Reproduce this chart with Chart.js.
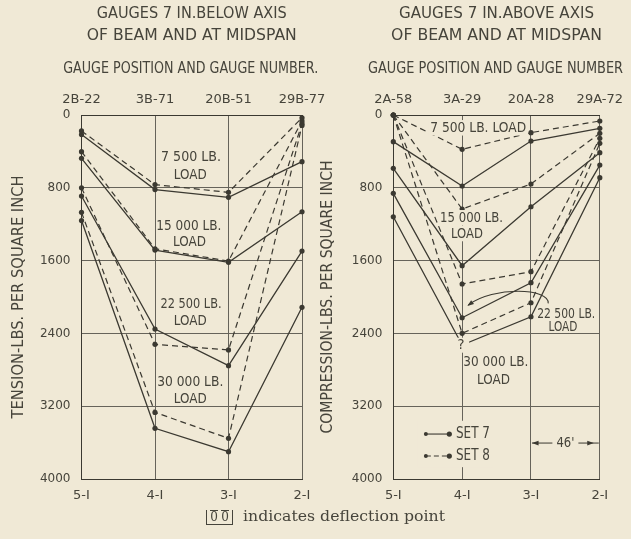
<!DOCTYPE html>
<html>
<head>
<meta charset="utf-8">
<script src="https://cdn.jsdelivr.net/npm/chart.js@4"></script>
<style>
  body { margin: 0; background: #f0e9d6; }
  #wrap { position: relative; width: 631px; height: 539px; }
  canvas { position: absolute; left: 0; top: 0; }
</style>
</head>
<body>
<div id="wrap">
  <canvas id="below" width="631" height="539"></canvas>
  <canvas id="above" width="631" height="539"></canvas>
</div>
<script>
// gauge positions and gauge numbers
const positions = ['5-I', '4-I', '3-I', '2-I'];
const gaugesBelow = ['2B-22', '3B-71', '20B-51', '29B-77'];
const gaugesAbove = ['2A-58', '3A-29', '20A-28', '29A-72'];
const stressTicks = [0, 800, 1600, 2400, 3200, 4000];
const loads = ['7 500', '15 000', '22 500', '30 000'];

// tension, gauges 7 in. below axis (lbs. per sq. in.)
const tension7500Set7 = [215, 820, 905, 513];
const tension7500Set8 = [175, 765, 850, 30];
const tension15000Set7 = [476, 1484, 1619, 1063];
const tension15000Set8 = [403, 1470, 1605, 65];
const tension22500Set7 = [890, 2352, 2755, 1495];
const tension22500Set8 = [800, 2520, 2582, 95];
const tension30000Set7 = [1160, 3443, 3700, 2113];
const tension30000Set8 = [1070, 3268, 3553, 115];

// compression, gauges 7 in. above axis
const comp7500Set7 = [293, 780, 286, 146];
const comp7500Set8 = [0, 377, 194, 66];
const comp15000Set7 = [586, 1656, 1008, 414];
const comp15000Set8 = [0, 1033, 758, 201];
const comp22500Set7 = [861, 2228, 1843, 550];
const comp22500Set8 = [0, 1857, 1722, 256];
const comp30000Set7 = [1118, 2528, 2217, 689];
const comp30000Set8 = [0, 2399, 2063, 311];

const bg = '#f0e9d6';
const ink = '#3b3931';
const textInk = '#46443b';
const gridInk = '#66635a';
const sans = "'DejaVu Sans', sans-serif";
const serif = "'DejaVu Serif', serif";

function series(values, set, hidePoint) {
  return {
    data: values.map((v, i) => ({ x: i, y: v })),
    borderColor: ink,
    borderWidth: set === 7 ? 1.3 : 1.2,
    borderDash: set === 7 ? [] : [6, 4],
    pointRadius: values.map((v, i) => (i === hidePoint ? 0 : 2.6)),
    pointBackgroundColor: ink,
    pointBorderWidth: 0,
    tension: 0,
    fill: false,
    clip: false
  };
}

// text squeezed to a given width (the lettering is narrow)
function fitText(ctx, text, cx, cy, width, size, family, rotate, pad) {
  ctx.save();
  ctx.font = size + 'px ' + (family || sans);
  const w = ctx.measureText(text).width;
  ctx.translate(cx, cy);
  if (rotate) ctx.rotate(-Math.PI / 2);
  if (pad) {
    ctx.fillStyle = bg;
    ctx.fillRect(-width / 2 - pad, -size / 2 - 1, width + pad * 2, size + 1);
  }
  ctx.scale(width / w, 1);
  ctx.fillStyle = textInk;
  ctx.textAlign = 'center';
  ctx.textBaseline = 'middle';
  ctx.fillText(text, 0, 0);
  ctx.restore();
}

function arrowHead(ctx, x, y, dx, dy, len) {
  const a = Math.atan2(dy, dx);
  ctx.beginPath();
  ctx.moveTo(x, y);
  ctx.lineTo(x - len * Math.cos(a - 0.35), y - len * Math.sin(a - 0.35));
  ctx.lineTo(x - len * Math.cos(a + 0.35), y - len * Math.sin(a + 0.35));
  ctx.closePath();
  ctx.fill();
}

function decor(panel) {
  return {
    id: 'decor',
    afterDraw(chart) {
      const ctx = chart.ctx;
      const xs = chart.scales.x, ys = chart.scales.y;
      const px = (x) => xs.getPixelForValue(x);
      const py = (y) => ys.getPixelForValue(y);
      const area = chart.chartArea;
      const mid = (area.left + area.right) / 2;

      // headings
      fitText(ctx, panel.title[0], mid, 14, panel.titleW[0], 16.5);
      fitText(ctx, panel.title[1], mid, 36, panel.titleW[1], 16.5);
      fitText(ctx, panel.title[2], mid - 1, 69, panel.titleW[2], 16.5);
      // y axis title
      fitText(ctx, panel.yTitle, area.left - panel.yTitleOff, 297, panel.yTitleW, 15.5, sans, true);

      // load labels
      panel.labels.forEach(l => {
        fitText(ctx, l.t, px(l.x), py(l.y), l.w, 14.5, sans, false, l.pad);
      });

      if (panel.extra) panel.extra(ctx, px, py);
    }
  };
}

function leftExtra(ctx) {
  // caption below both panels
  ctx.save();
  ctx.strokeStyle = textInk;
  ctx.fillStyle = textInk;
  ctx.lineWidth = 1;
  ctx.font = '12px ' + serif;
  ctx.textAlign = 'center';
  ctx.textBaseline = 'middle';
  ctx.fillText('0', 214, 518);
  ctx.fillText('0', 225, 518);
  ctx.beginPath();
  ctx.moveTo(206.5, 510); ctx.lineTo(206.5, 525);
  ctx.moveTo(232.5, 510); ctx.lineTo(232.5, 525);
  ctx.moveTo(210, 510.5); ctx.lineTo(218, 510.5);
  ctx.moveTo(221, 510.5); ctx.lineTo(229, 510.5);
  ctx.moveTo(207, 524.5); ctx.lineTo(232, 524.5);
  ctx.stroke();
  ctx.restore();
  fitText(ctx, 'indicates deflection point', 344, 517, 202, 15, serif);
}

function rightExtra(ctx, px, py) {
  ctx.save();
  ctx.strokeStyle = ink;
  ctx.fillStyle = ink;
  ctx.lineWidth = 1.1;

  // "?" where the set 7 30 000 lb. reading at 4-I is missing
  ctx.fillStyle = bg;
  ctx.fillRect(px(1) - 7, py(2535) - 8, 14, 15);
  ctx.restore();
  fitText(ctx, '?', px(0.985), py(2535), 7, 14);

  ctx.save();
  ctx.strokeStyle = ink;
  ctx.fillStyle = ink;
  ctx.lineWidth = 1.1;
  // curved pointer from the 22 500 lb. label
  const x0 = px(2.25), y0 = py(2070), x3 = px(1.09), y3 = py(2088);
  const c2x = px(1.455), c2y = py(1879);
  ctx.beginPath();
  ctx.moveTo(x0, y0);
  ctx.bezierCurveTo(px(2.273), py(1901), c2x, c2y, x3, y3);
  ctx.stroke();
  arrowHead(ctx, x3 - 1, y3 + 1, x3 - c2x, y3 - c2y, 7);

  // legend
  ctx.fillStyle = bg;
  ctx.fillRect(px(0.35), py(3360), px(1.45) - px(0.35), py(3870) - py(3360));
  ctx.fillStyle = ink;
  [[7, 3506], [8, 3748]].forEach(([set, v]) => {
    const y = py(v);
    ctx.setLineDash(set === 7 ? [] : [5, 3]);
    ctx.beginPath();
    ctx.moveTo(px(0.473), y);
    ctx.lineTo(px(0.814), y);
    ctx.stroke();
    ctx.setLineDash([]);
    ctx.beginPath(); ctx.arc(px(0.473), y, 2, 0, Math.PI * 2); ctx.fill();
    ctx.beginPath(); ctx.arc(px(0.814), y, 2.6, 0, Math.PI * 2); ctx.fill();
  });
  ctx.restore();
  fitText(ctx, 'SET 7', px(0.91) + 17, py(3506), 34, 15);
  fitText(ctx, 'SET 8', px(0.91) + 17, py(3748), 34, 15);

  // 46' spacing between gauge lines
  ctx.save();
  ctx.strokeStyle = ink;
  ctx.fillStyle = ink;
  ctx.lineWidth = 1;
  const yd = py(3605);
  ctx.beginPath();
  ctx.moveTo(px(2) + 1, yd); ctx.lineTo(px(3) - 1, yd);
  ctx.stroke();
  arrowHead(ctx, px(2) + 1, yd, -1, 0, 7);
  arrowHead(ctx, px(3) - 6, yd, 1, 0, 7);
  ctx.restore();
  fitText(ctx, "46'", px(2.5), yd, 18, 14, sans, false, 4);
}

function makeChart(id, sets, gauges, panel) {
  const datasets = [];
  sets.forEach(s => datasets.push(series(s[0], s[1], s[2])));
  const tickFont = { family: sans, size: 13 };
  return new Chart(document.getElementById(id), {
    type: 'line',
    data: { datasets },
    options: {
      responsive: false,
      animation: false,
      layout: { padding: { left: panel.padLeft, right: panel.padRight, top: 0, bottom: 0 } },
      plugins: { legend: { display: false }, tooltip: { enabled: false } },
      scales: {
        x: {
          type: 'linear', position: 'bottom', min: 0, max: 3,
          afterBuildTicks: s => { s.ticks = positions.map((p, i) => ({ value: i })); },
          ticks: { callback: v => positions[v], padding: 9, color: textInk, font: tickFont, autoSkip: false, maxRotation: 0 },
          grid: { color: gridInk, lineWidth: 1, drawTicks: false },
          border: { color: ink, width: 1 },
          afterFit: s => { s.height = 60; }
        },
        x2: {
          type: 'linear', position: 'top', min: 0, max: 3,
          afterBuildTicks: s => { s.ticks = gauges.map((g, i) => ({ value: i })); },
          ticks: { callback: v => gauges[v], padding: 8, color: textInk, font: tickFont, autoSkip: false, maxRotation: 0 },
          grid: { display: false, drawTicks: false },
          border: { color: ink, width: 1 },
          afterFit: s => { s.height = 115; }
        },
        y: {
          reverse: true, min: 0, max: 4000,
          afterBuildTicks: s => { s.ticks = stressTicks.map(v => ({ value: v })); },
          ticks: { callback: v => String(v), padding: 11, color: textInk, font: { family: sans, size: 12 } },
          grid: { color: gridInk, lineWidth: 1, drawTicks: false },
          border: { color: ink, width: 1 },
          afterFit: s => { s.width = panel.yWidth; }
        }
      }
    },
    plugins: [decor(panel)]
  });
}

// left panel: tension
makeChart('below', [
  [tension7500Set8, 8], [tension7500Set7, 7],
  [tension15000Set8, 8], [tension15000Set7, 7],
  [tension22500Set8, 8], [tension22500Set7, 7],
  [tension30000Set8, 8], [tension30000Set7, 7]
], gaugesBelow, {
  padLeft: 0, padRight: 329, yWidth: 81.5,
  title: ['GAUGES 7 IN.BELOW AXIS', 'OF BEAM AND AT MIDSPAN', 'GAUGE POSITION AND GAUGE NUMBER.'],
  titleW: [190, 210, 255],
  yTitle: 'TENSION-LBS. PER SQUARE INCH', yTitleOff: 63, yTitleW: 243,
  labels: [
    { t: loads[0] + ' LB.', x: 1.49, y: 469, w: 60 },
    { t: 'LOAD', x: 1.48, y: 659, w: 33 },
    { t: loads[1] + ' LB.', x: 1.46, y: 1220, w: 65 },
    { t: 'LOAD', x: 1.47, y: 1403, w: 33 },
    { t: loads[2] + ' LB.', x: 1.49, y: 2077, w: 61 },
    { t: 'LOAD', x: 1.48, y: 2261, w: 33 },
    { t: loads[3] + ' LB.', x: 1.48, y: 2934, w: 66 },
    { t: 'LOAD', x: 1.48, y: 3121, w: 33 }
  ],
  extra: leftExtra
});

// right panel: compression
makeChart('above', [
  [comp7500Set8, 8], [comp7500Set7, 7],
  [comp15000Set8, 8], [comp15000Set7, 7],
  [comp22500Set8, 8], [comp22500Set7, 7],
  [comp30000Set8, 8], [comp30000Set7, 7, 1]
], gaugesAbove, {
  padLeft: 320, padRight: 17.7, yWidth: 73.3,
  title: ['GAUGES 7 IN.ABOVE AXIS', 'OF BEAM AND AT MIDSPAN', 'GAUGE POSITION AND GAUGE NUMBER'],
  titleW: [195, 211, 255],
  yTitle: 'COMPRESSION-LBS. PER SQUARE INCH', yTitleOff: 65, yTitleW: 273,
  labels: [
    { t: loads[0] + ' LB. LOAD', x: 1.233, y: 146, w: 96, pad: 2 },
    { t: loads[1] + ' LB.', x: 1.137, y: 1135, w: 63, pad: 1 },
    { t: 'LOAD', x: 1.069, y: 1308, w: 32, pad: 1 },
    { t: loads[2] + ' LB.', x: 2.512, y: 2190, w: 58 },
    { t: 'LOAD', x: 2.464, y: 2333, w: 29 },
    { t: loads[3] + ' LB.', x: 1.489, y: 2722, w: 65 },
    { t: 'LOAD', x: 1.455, y: 2912, w: 33 }
  ],
  extra: rightExtra
});
</script>
</body>
</html>
